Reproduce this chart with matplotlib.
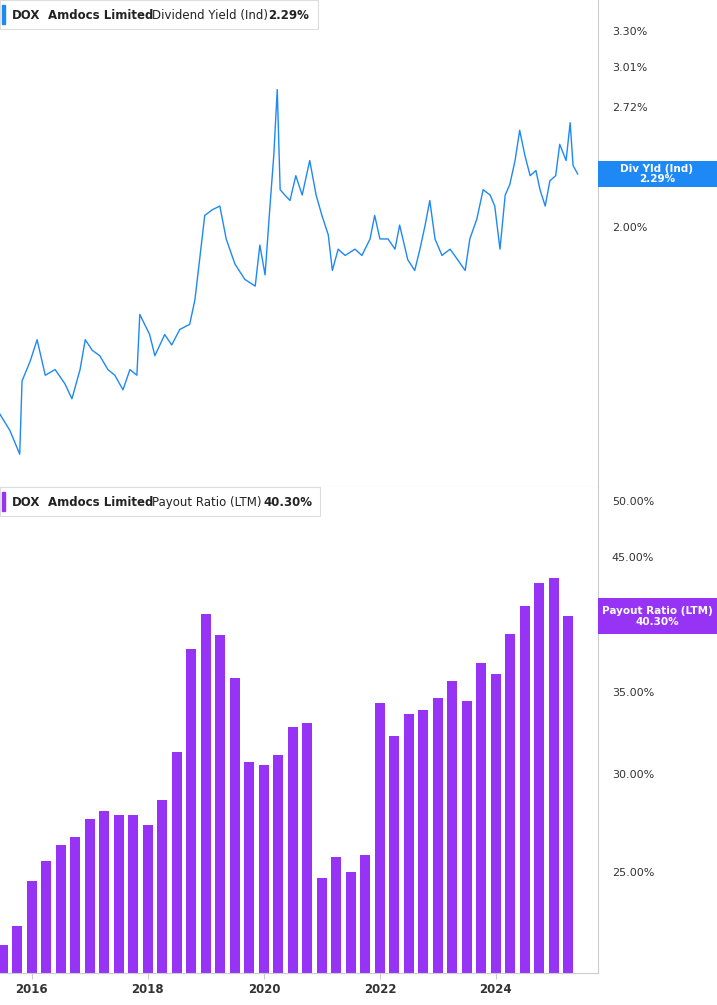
import matplotlib
matplotlib.use("Agg")
import matplotlib.pyplot as plt
from matplotlib.ticker import FixedLocator, NullLocator, FixedFormatter

yield_dates = [2015.45,2015.62,2015.79,2015.83,2015.97,2016.09,2016.23,2016.40,2016.57,2016.69,2016.83,2016.92,
 2017.04,2017.17,2017.31,2017.43,2017.57,2017.69,2017.81,2017.86,2018.03,2018.12,2018.29,2018.41,2018.55,2018.72,
 2018.81,2018.90,2018.98,2019.11,2019.24,2019.35,2019.50,2019.67,2019.85,2019.93,2020.02,2020.10,2020.17,2020.23,
 2020.28,2020.36,2020.45,2020.55,2020.66,2020.79,2020.90,2021.00,2021.11,2021.18,2021.28,2021.40,2021.57,2021.69,
 2021.83,2021.91,2022.00,2022.14,2022.26,2022.34,2022.48,2022.60,2022.69,2022.78,2022.86,2022.95,2023.07,2023.21,
 2023.34,2023.47,2023.55,2023.67,2023.78,2023.90,2023.98,2024.07,2024.16,2024.24,2024.33,2024.41,2024.50,2024.59,
 2024.69,2024.76,2024.85,2024.93,2025.03,2025.10,2025.21,2025.28,2025.33,2025.41]
yield_pct = [1.24,1.19,1.12,1.35,1.42,1.50,1.37,1.39,1.34,1.29,1.39,1.50,
 1.46,1.44,1.39,1.37,1.32,1.39,1.37,1.60,1.52,1.44,1.52,1.48,1.54,1.56,
 1.66,1.86,2.06,2.09,2.11,1.94,1.82,1.75,1.72,1.91,1.77,2.09,2.40,2.84,
 2.20,2.17,2.14,2.28,2.17,2.37,2.17,2.06,1.96,1.79,1.89,1.86,1.89,1.86,
 1.94,2.06,1.94,1.94,1.89,2.01,1.84,1.79,1.89,2.01,2.14,1.94,1.86,1.89,
 1.84,1.79,1.94,2.04,2.20,2.17,2.11,1.89,2.17,2.23,2.37,2.56,2.40,2.28,
 2.31,2.20,2.11,2.25,2.28,2.47,2.37,2.61,2.34,2.29]

payout_dates = [2015.5 + 0.25*i for i in range(40)]
payout_pct = [21.8,22.6,24.6,25.5,26.3,26.7,27.6,28.0,27.8,27.8,27.3,28.6,31.3,37.9,40.5,38.9,35.9,30.7,30.5,31.1,
 32.8,33.0,24.7,25.7,25.0,25.8,34.3,32.2,33.6,33.8,34.6,35.7,34.4,36.9,36.2,39.0,41.1,42.9,43.3,40.3]

yield_ticks = [2.00, 2.72, 3.01, 3.30]
payout_ticks = [25, 30, 35, 40, 45, 50]
year_ticks = [2016, 2018, 2020, 2022, 2024]

BLUE = "#1e88f5"
PURPLE = "#9633f5"
W, H = 717, 1005
fig = plt.figure(figsize=(W/100, H/100), dpi=100)
plot_w = 598/W
ax1 = fig.add_axes([0, 1-487/H, plot_w, 487/H])
ax2 = fig.add_axes([0, 1-973/H, plot_w, 486/H])

for ax in (ax1, ax2):
    ax.set_xlim(2015.45, 2025.76)
    ax.yaxis.tick_right()
    for s in ("top", "left"):
        ax.spines[s].set_visible(False)
    ax.spines["right"].set_color("#cccccc")
    ax.spines["bottom"].set_color("#cccccc")
    ax.tick_params(axis="y", length=0, labelsize=8, colors="#333333", pad=10)

ax1.plot(yield_dates, yield_pct, color=BLUE, lw=1.0)
ax1.set_yscale("log")
ax1.set_ylim(1.03, 3.57)
ax1.yaxis.set_major_locator(FixedLocator(yield_ticks))
ax1.yaxis.set_major_formatter(FixedFormatter([f"{v:.2f}%" for v in yield_ticks]))
ax1.yaxis.set_minor_locator(NullLocator())
ax1.set_xticks([])

ax2.bar(payout_dates, payout_pct, width=0.17, color=PURPLE, align="center")
ax2.set_yscale("log")
ax2.set_ylim(20.7, 51.3)
ax2.yaxis.set_major_locator(FixedLocator(payout_ticks))
ax2.yaxis.set_major_formatter(FixedFormatter([f"{v:.2f}%" for v in payout_ticks]))
ax2.yaxis.set_minor_locator(NullLocator())
ax2.set_xticks(year_ticks)
ax2.set_xticklabels([str(y) for y in year_ticks])
ax2.tick_params(axis="x", length=4, color="#cccccc", labelsize=8.5, colors="#333333")
for lab in ax2.get_xticklabels():
    lab.set_fontweight("bold")

def legend(ax, color, parts, width):
    ax.add_patch(plt.Rectangle((0.003, 0.95), 0.005, 0.04, transform=ax.transAxes, color=color, clip_on=False))
    ax.add_patch(plt.Rectangle((0.0, 0.94), width, 0.06, transform=ax.transAxes, fc="white", ec="#dddddd", lw=0.8, zorder=0, clip_on=False))
    for txt, bold, x in parts:
        ax.text(x, 0.968, txt, transform=ax.transAxes, fontsize=8.5, fontweight="bold" if bold else "normal",
                va="center", color="#222222")

legend(ax1, BLUE, [("DOX", True, 0.020), ("Amdocs Limited", True, 0.080), ("Dividend Yield (Ind)", False, 0.254), ("2.29%", True, 0.448)], 0.532)
legend(ax2, PURPLE, [("DOX", True, 0.020), ("Amdocs Limited", True, 0.080), ("Payout Ratio (LTM)", False, 0.254), ("40.30%", True, 0.44)], 0.535)

def tag(ax, val, y0, y1, color, line1, line2):
    ax.add_patch(plt.Rectangle((1.0, y0), 119/598, y1 - y0, transform=ax.get_yaxis_transform(),
                               fc=color, ec="none", clip_on=False, zorder=5))
    cx = 1.0 + 59/598
    ax.text(cx, val, line1 + "\n" + line2, transform=ax.get_yaxis_transform(), ha="center", va="center",
            fontsize=7.5, fontweight="bold", color="white", zorder=6, linespacing=1.1)

tag(ax1, 2.29, 2.215, 2.37, BLUE, "Div Yld (Ind)", "2.29%")
tag(ax2, 40.3, 39.0, 41.7, PURPLE, "Payout Ratio (LTM)", "40.30%")

fig.savefig("out.png", dpi=100)
